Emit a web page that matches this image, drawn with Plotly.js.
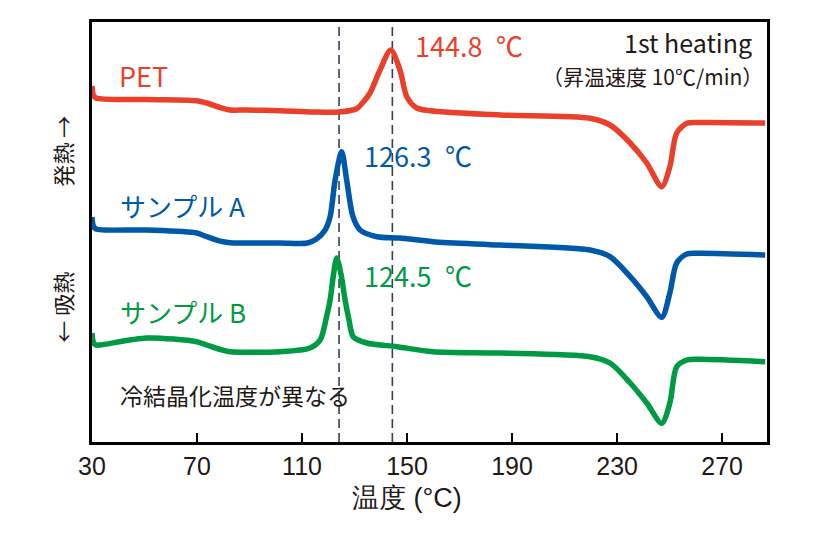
<!DOCTYPE html>
<html>
<head>
<meta charset="utf-8">
<script src="https://cdn.plot.ly/plotly-3.0.1.min.js"></script>
<style>html,body{margin:0;padding:0;background:#fff;}#chart{width:840px;height:533px;}</style>
</head>
<body>
<div id="chart"></div>
<script>
// Temperature (°C) and heat flow (a.u.)
const petT = [30, 30.5, 31.5, 50.8, 69.9, 73.7, 78.8, 82.6, 88.9, 101.6, 114.2, 124, 130.8, 133.4, 135.9, 139.7, 143.8, 147.3, 149.9, 153.7, 158.8, 185.4, 219.7, 227.3, 235, 241.3, 247, 250.1, 252.7, 256.6, 261.4, 286.4];
const petY = [356, 347, 344, 342.5, 341.3, 339, 334.5, 332, 332, 331.3, 330, 330, 333.3, 340.3, 349, 372, 392, 372, 345.3, 334, 331.3, 327, 323.7, 317, 299, 279, 255.3, 275.3, 309, 318.7, 319.5, 319];

const aT = [30, 30.5, 31.5, 50.8, 69.9, 73.7, 78.8, 82.6, 101.6, 112, 115.5, 118.8, 120.7, 122.6, 125.1, 127, 129.4, 132.1, 138.5, 147.3, 159.9, 185.4, 219.7, 227.3, 235, 241.3, 247, 250.1, 252.7, 256.6, 261.4, 286.4];
const aY = [225, 216, 213, 212, 209, 205.3, 200.8, 199.3, 199, 199, 203, 212, 225.3, 262, 290.3, 262, 225.3, 212, 205.3, 204, 200.3, 197, 192, 185.3, 165.3, 145.3, 124.7, 149, 179, 188, 188.7, 187];

const bT = [30, 30.5, 31.5, 33, 50.8, 69.9, 73.7, 78.8, 82.6, 101.6, 113, 116.9, 119.4, 120.7, 121.8, 123.2, 124.9, 126.4, 127.9, 129.5, 134.6, 146.1, 159.9, 185.4, 219.7, 227.3, 235, 241.3, 247, 250.1, 252.7, 256.6, 261.4, 286.4];
const bY = [109, 100, 97, 97, 104, 100.3, 97, 92.5, 90.3, 90.3, 94, 102, 126, 142, 164, 184, 167, 142, 122, 105.3, 99, 95.3, 90.3, 89, 85.3, 79, 59, 39, 18.7, 39, 75.3, 82, 82.7, 80.3];

const peakLines = [124.1, 144.4];
const xTicks = [30, 70, 110, 150, 190, 230, 270];
const seriesNames = ["PET", "サンプル A", "サンプル B"];
const peakLabels = ["144.8 ℃", "126.3 ℃", "124.5 ℃"];

const RED = "#e8402a", BLUE = "#0059a8", GREEN = "#009a44", INK = "#231815";
const JP = "Noto Sans CJK JP, Noto Sans, sans-serif";
const NUM = "Liberation Sans Narrow, Arial Narrow, Liberation Sans, sans-serif";

const lineStyle = c => ({color: c, width: 5.5, shape: "spline", smoothing: 0.8});
const traces = [
  {x: petT, y: petY, mode: "lines", line: lineStyle(RED), name: seriesNames[0], hoverinfo: "skip"},
  {x: aT, y: aY, mode: "lines", line: lineStyle(BLUE), name: seriesNames[1], hoverinfo: "skip"},
  {x: bT, y: bY, mode: "lines", line: lineStyle(GREEN), name: seriesNames[2], hoverinfo: "skip"}
];

const shapes = peakLines.map(t => ({
  type: "line", xref: "x", yref: "paper", x0: t, x1: t, y0: 0, y1: 1,
  line: {color: "#34404f", width: 1.6, dash: "9px,5px"}, layer: "below"
}));

const ann = (text, x, y, color, size, xanchor) => ({
  text, x, y, xref: "x", yref: "y", xanchor: xanchor || "left", yanchor: "middle",
  showarrow: false, font: {family: JP, size, color}
});

const annotations = [
  ann(seriesNames[0], 39.5, 367, RED, 27),
  ann(peakLabels[0].replace(" ", "\u2002"), 152.3, 396.5, RED, 27),
  ann("1st heating", 282, 400, INK, 25, "right"),
  ann("（昇温速度 10℃/min）", 286.3, 366, INK, 21, "right"),
  ann(peakLabels[1].replace(" ", "\u2002"), 132.9, 287, BLUE, 27),
  ann(seriesNames[1], 39.9, 237, BLUE, 26),
  ann(peakLabels[2].replace(" ", "\u2002"), 132.9, 167, GREEN, 27),
  ann(seriesNames[2], 39.9, 131, GREEN, 26),
  ann("冷結晶化温度が異なる", 39.9, 47, INK, 23),
  {text: "発熱 →", xref: "paper", yref: "paper", x: -0.045, y: (442 - 151) / 420, xanchor: "center", yanchor: "middle",
   textangle: -90, showarrow: false, font: {family: JP, size: 22, color: INK}},
  {text: "← 吸熱", xref: "paper", yref: "paper", x: -0.045, y: (442 - 307) / 420, xanchor: "center", yanchor: "middle",
   textangle: -90, showarrow: false, font: {family: JP, size: 22, color: INK}},
  {text: "温度 (°C)", xref: "paper", yref: "paper", x: (407 - 92) / 675, y: -0.133, xanchor: "center", yanchor: "middle",
   showarrow: false, font: {family: NUM, size: 27, color: INK}}
];

const layout = {
  width: 840, height: 533,
  margin: {l: 92, r: 73, t: 22, b: 91},
  paper_bgcolor: "#fff", plot_bgcolor: "#fff",
  showlegend: false,
  xaxis: {
    range: [30, 287.1], tickmode: "array", tickvals: xTicks, ticktext: xTicks.map(String),
    ticks: "inside", ticklen: 9, tickwidth: 2.5, tickcolor: "#000",
    showline: true, linewidth: 3, linecolor: "#000", mirror: true,
    showgrid: false, zeroline: false,
    tickfont: {family: NUM, size: 25, color: INK}
  },
  yaxis: {
    range: [0, 420], showticklabels: false, ticks: "",
    showline: true, linewidth: 3, linecolor: "#000", mirror: true,
    showgrid: false, zeroline: false
  },
  shapes, annotations
};

Plotly.newPlot("chart", traces, layout, {staticPlot: true, displayModeBar: false});
</script>
</body>
</html>
